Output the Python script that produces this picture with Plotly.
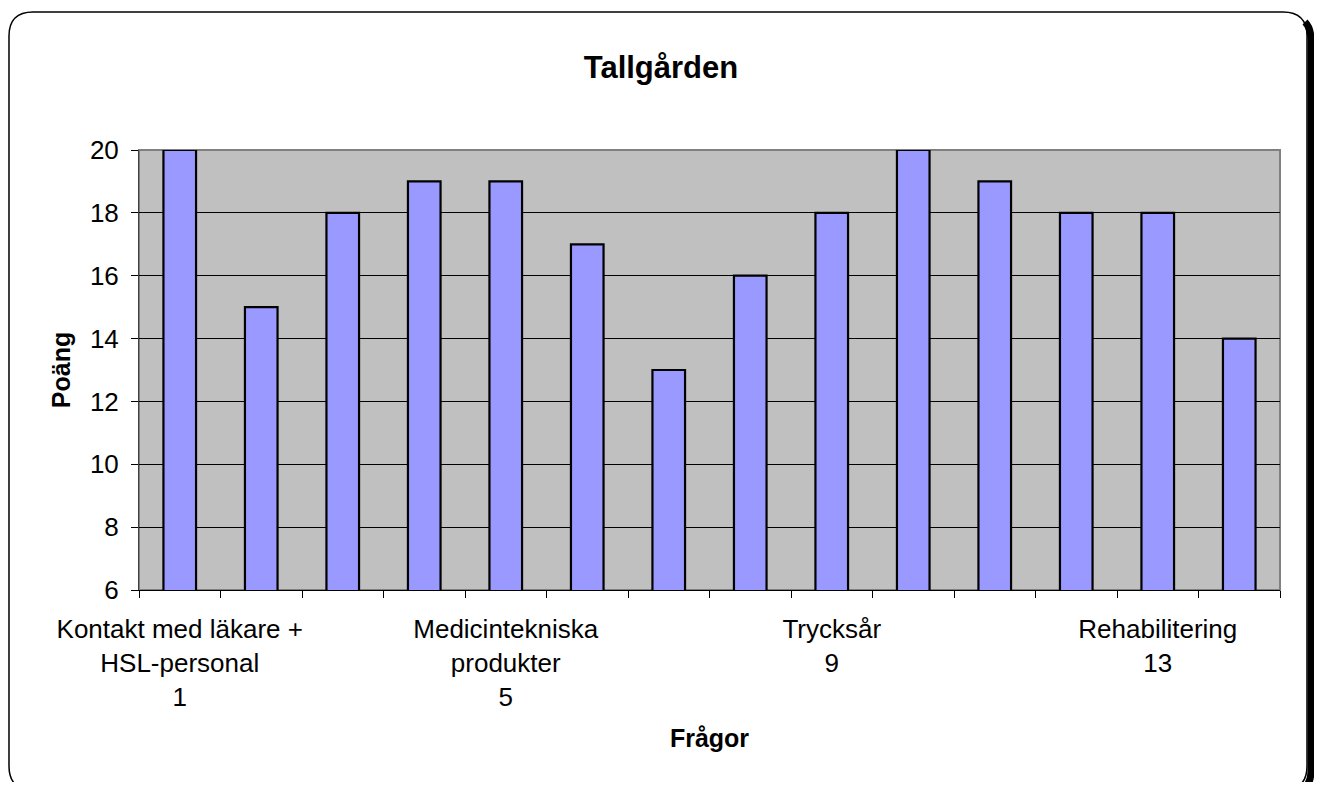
import plotly.graph_objects as go

# ---- data ----
questions = list(range(1, 15))
scores = [20, 15, 18, 19, 19, 17, 13, 16, 18, 20, 19, 18, 18, 14]
label_positions = [1, 5, 9, 13]
label_texts = [
    "Kontakt med läkare +<br>HSL-personal<br>1",
    "Medicintekniska<br>produkter<br>5",
    "Trycksår<br>9",
    "Rehabilitering<br>13",
]
boundary_ticks = [q - 0.5 for q in questions] + [questions[-1] + 0.5]
y_ticks = [6, 8, 10, 12, 14, 16, 18, 20]

FONT = "Arial, Liberation Sans, sans-serif"
OFF = 8  # page body margin
W, H = 1322 - 2 * OFF, 790 - 2 * OFF
L, R, T, B = 139 - OFF, 1280 - OFF, 150 - OFF, 590 - OFF


def px(x):
    return (x - OFF - L) / (R - L)


def py(y):
    return (B - (y - OFF)) / (B - T)


def P(x, y):
    return f"{px(x):.5f},{py(y):.5f}"


# outer rounded border (reference pixel coordinates)
x0, y0, x1, y1, r = 9, 12, 1307, 790, 24
border = (
    f"M {P(x0 + r, y0)} L {P(x1 - r, y0)} Q {P(x1, y0)} {P(x1, y0 + r)} "
    f"L {P(x1, y1 - r)} Q {P(x1, y1)} {P(x1 - r, y1)} L {P(x0 + r, y1)} "
    f"Q {P(x0, y1)} {P(x0, y1 - r)} L {P(x0, y0 + r)} Q {P(x0, y0)} {P(x0 + r, y0)} Z"
)
d = 4
shadow = (
    f"M {P(x1 - r / 4 + d, y0 + r / 4 + d)} Q {P(x1 + d, y0 + r / 2 + d)} {P(x1 + d, y0 + r + d)} "
    f"L {P(x1 + d, y1 - r + d)} Q {P(x1 + d, y1 + d)} {P(x1 - r + d, y1 + d)} L {P(x0 + r + d, y1 + d)}"
)

fig = go.Figure()
fig.add_trace(go.Bar(
    x=questions,
    y=scores,
    width=0.4,
    marker=dict(color="#9999FF", line=dict(color="black", width=2.2)),
    showlegend=False,
    hoverinfo="x+y",
))

fig.update_layout(
    width=W,
    height=H,
    margin=dict(l=L, r=W - R, t=T, b=H - B, autoexpand=False),
    paper_bgcolor="white",
    plot_bgcolor="#C0C0C0",
    font=dict(family=FONT, size=26, color="black"),
    title=dict(
        text="<b>Tallgården</b>",
        x=0.5,
        xanchor="center",
        y=1 - (67 - OFF) / H,
        yanchor="middle",
        font=dict(family=FONT, size=31, color="black"),
    ),
    xaxis=dict(
        range=[0.5, 14.5],
        tickmode="array",
        tickvals=label_positions,
        ticktext=label_texts,
        ticks="",
        ticklabelstandoff=16,
        showgrid=False,
        zeroline=False,
        showline=True,
        linecolor="black",
        linewidth=1,
        tickfont=dict(family=FONT, size=26, color="black"),
        minor=dict(
            tickmode="array",
            tickvals=boundary_ticks,
            ticks="outside",
            ticklen=7,
            tickwidth=1,
            tickcolor="black",
            showgrid=False,
        ),
        title=dict(text="<b>Frågor</b>", font=dict(family=FONT, size=25, color="black"), standoff=18),
        fixedrange=True,
    ),
    yaxis=dict(
        range=[6, 20],
        tickmode="array",
        tickvals=y_ticks,
        ticks="outside",
        ticklen=7,
        tickwidth=1,
        tickcolor="black",
        ticklabelstandoff=7,
        showgrid=True,
        gridcolor="black",
        gridwidth=1,
        zeroline=False,
        showline=True,
        linecolor="#404040",
        linewidth=1,
        tickfont=dict(family=FONT, size=26, color="black"),
        title=dict(text="<b>Poäng</b>", font=dict(family=FONT, size=25, color="black"), standoff=12),
        fixedrange=True,
    ),
    shapes=[
        dict(type="rect", xref="paper", yref="paper", x0=0, y0=0, x1=1, y1=1,
             line=dict(color="#808080", width=2), fillcolor="rgba(0,0,0,0)", layer="below"),
        dict(type="path", xref="paper", yref="paper", path=shadow,
             line=dict(color="black", width=7), fillcolor="rgba(0,0,0,0)", layer="above"),
        dict(type="path", xref="paper", yref="paper", path=border,
             line=dict(color="black", width=1.5), fillcolor="rgba(0,0,0,0)", layer="above"),
    ],
)

fig.write_html("out.html")
